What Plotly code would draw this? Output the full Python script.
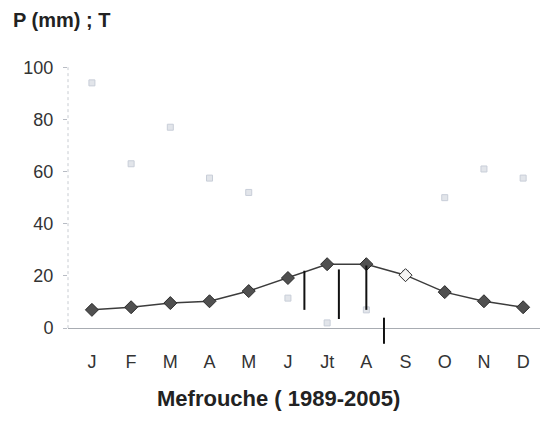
import plotly.graph_objects as go

months = ["J", "F", "M", "A", "M", "J", "Jt", "A", "S", "O", "N", "D"]
temperature = [7, 8, 9.6, 10.3, 14.2, 19.2, 24.5, 24.5, 20.3, 13.8, 10.3, 8]
precipitation = [94, 63, 77, 57.5, 52, 11.5, 2, 7, 21, 50, 61, 57.5]
y_ticks = [0, 20, 40, 60, 80, 100]

# dry-season hatching (month index position, bottom, top)
hatch_x = [5.42, 6.3, 7.0, 7.45]
hatch_bottom = [7, 3.5, 7, -6]
hatch_top = [22, 22.5, 24, 4]

x = list(range(len(months)))

fig = go.Figure()

fig.add_trace(go.Scatter(
    x=x, y=precipitation, mode="markers",
    marker=dict(symbol="square", size=6, color="#e2e5ea",
                line=dict(color="#c8ced8", width=1)),
    hoverinfo="skip", showlegend=False,
))

t_colors = ["#505050"] * len(months)
t_colors[8] = "#f4f4f4"
fig.add_trace(go.Scatter(
    x=x, y=temperature, mode="lines+markers",
    line=dict(color="#3c3c3c", width=1.5),
    marker=dict(symbol="diamond", size=10, color=t_colors,
                line=dict(color="#2a2a2a", width=1)),
    showlegend=False,
))

for hx, hb, ht in zip(hatch_x, hatch_bottom, hatch_top):
    fig.add_shape(type="line", xref="x", yref="y", x0=hx, x1=hx, y0=hb, y1=ht,
                  line=dict(color="#111111", width=2))

# y axis line from 0 to 100
fig.add_shape(type="line", xref="paper", yref="y", x0=0, x1=0, y0=0, y1=100,
              line=dict(color="#c8ccd2", width=1, dash="dot"))

fig.add_annotation(text="<b>P (mm) ; T</b>", xref="paper", yref="paper",
                   x=-0.121, y=1.0, yshift=42, xanchor="left", yanchor="middle",
                   showarrow=False, font=dict(size=20, color="#222", family="Liberation Sans, Arial"))
fig.add_annotation(text="<b>Mefrouche ( 1989-2005)</b>", xref="x", yref="paper",
                   x=4.75, y=0, yshift=-49, xanchor="center", yanchor="middle",
                   showarrow=False, font=dict(size=22, color="#222", family="Liberation Sans, Arial"))

fig.update_layout(
    width=540, height=422,
    margin=dict(l=68, r=0, t=62, b=73, autoexpand=False),
    paper_bgcolor="white", plot_bgcolor="white",
    font=dict(family="Liberation Sans, Arial", color="#333"),
    xaxis=dict(range=[-0.61, 11.43], tickmode="array", tickvals=x, ticktext=months,
               showgrid=False, zeroline=False, showline=False, ticks="",
               tickfont=dict(size=18, color="#333"), automargin=False),
    yaxis=dict(range=[-8, 102], tickmode="array", tickvals=y_ticks,
               showgrid=False, zeroline=True, zerolinecolor="#a8acb2", zerolinewidth=1,
               showline=False, ticks="outside", ticklen=4, tickcolor="#b8bcc4",
               ticklabelstandoff=6,
               tickfont=dict(size=18, color="#333"), automargin=False),
)

fig.write_html("out.html", config={"displayModeBar": False},
               post_script="document.body.style.margin='0';")
